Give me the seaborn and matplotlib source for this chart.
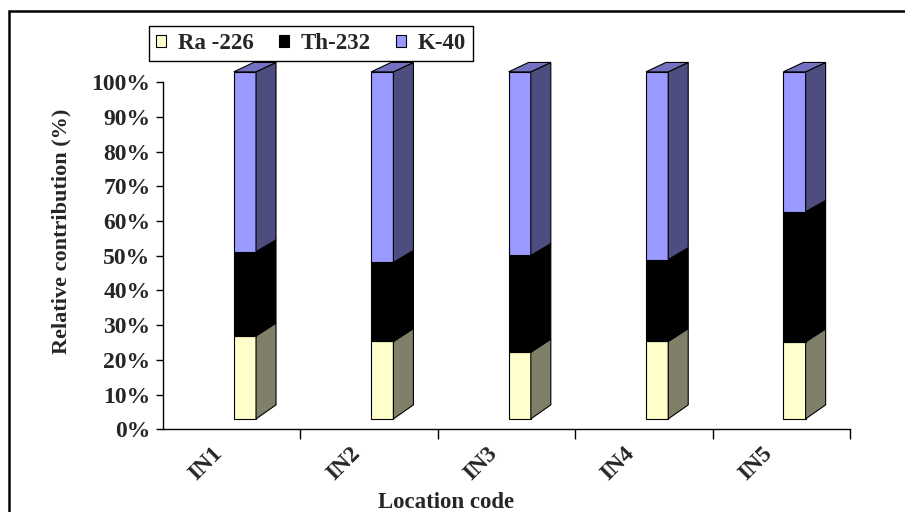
import numpy as np
import pandas as pd
import matplotlib
matplotlib.use("Agg")
import matplotlib.pyplot as plt
import matplotlib.transforms as mtransforms
import seaborn as sns
from matplotlib.patches import Polygon, Patch, Rectangle

# ---------------- data ----------------
locations = ["IN1", "IN2", "IN3", "IN4", "IN5"]
ra226 = [23.9, 22.3, 19.2, 22.3, 22.2]
th232 = [24.3, 22.8, 27.9, 23.6, 37.5]
k40 = [51.8, 54.9, 52.9, 54.1, 40.3]
series_names = ["Ra -226", "Th-232", "K-40"]
y_ticks = [0, 10, 20, 30, 40, 50, 60, 70, 80, 90, 100]
y_tick_labels = [f"{v}%" for v in y_ticks]

front_colors = ["#FFFFCC", "#000000", "#9999FF"]
side_colors = ["#80806A", "#000000", "#4D4D80"]
top_color = "#7272C0"

# ---------------- style ----------------
sns.set_theme(style="white")
plt.rcParams["font.family"] = ["Liberation Serif", "DejaVu Serif"]
plt.rcParams["font.weight"] = "bold"

fig = plt.figure(figsize=(9.05, 5.12), dpi=100)
ax = fig.add_axes([163 / 905, (512 - 429.3) / 512, 687 / 905, 369.6 / 512])

series = [ra226, th232, k40]
idx = np.arange(len(locations))
bar_w = 0.162
xpos = idx + 0.015 + bar_w / 2
base = 3.0  # 3-D front face offset
dx = 20 / 137.4


def dy(v):
    return (14 - 4.6 * (v - base) / 100) / 3.47


cum = np.zeros(len(locations))
for name, vals, fc, sc in zip(series_names, series, front_colors, side_colors):
    vals = np.asarray(vals, dtype=float)
    bottoms = base + cum
    df = pd.DataFrame({"x": xpos, "y": vals})
    sns.barplot(data=df, x="x", y="y", bottom=bottoms, native_scale=True,
                width=bar_w, color=fc, saturation=1, edgecolor="black",
                linewidth=0.8, errorbar=None, ax=ax, zorder=3)
    for xc, b, v in zip(xpos, bottoms, vals):
        t = b + v
        xr = xc + bar_w / 2
        pts = [(xr, b), (xr + dx, b + dy(b)), (xr + dx, t + dy(t)), (xr, t)]
        ax.add_patch(Polygon(pts, closed=True, facecolor=sc, edgecolor="black",
                             linewidth=0.8, zorder=3))
    cum += vals

for xc, c in zip(xpos, cum):
    top = base + c
    xl, xr = xc - bar_w / 2, xc + bar_w / 2
    d = dy(top)
    pts = [(xl, top), (xl + dx, top + d), (xr + dx, top + d), (xr, top)]
    ax.add_patch(Polygon(pts, closed=True, facecolor=top_color, edgecolor="black",
                         linewidth=0.8, zorder=3))

# ---------------- axes ----------------
ax.set_xlim(-0.5, 4.5)
ax.set_ylim(0, 106.5)
ax.set_facecolor("white")
for s in ["top", "right"]:
    ax.spines[s].set_visible(False)
for s in ["left", "bottom"]:
    ax.spines[s].set_color("black")
    ax.spines[s].set_linewidth(1.0)
ax.spines["left"].set_bounds(0, 100)

ax.set_yticks(y_ticks, y_tick_labels)
ax.tick_params(axis="y", direction="out", length=5, width=1, color="black",
               labelsize=17, pad=4, left=True)
ax.set_xticks(idx, locations)
ax.set_xticks(np.arange(0.5, 5.0, 1.0), minor=True)
ax.tick_params(axis="x", which="major", length=0, pad=10, labelsize=17)
ax.tick_params(axis="x", which="minor", direction="out", length=7, width=1,
               color="black", bottom=True)
shift = mtransforms.ScaledTranslation(-5 / 100, 0, fig.dpi_scale_trans)
for lab in ax.get_xticklabels():
    lab.set_rotation(45)
    lab.set_ha("right")
    lab.set_va("top")
    lab.set_fontweight("bold")
    lab.set_transform(lab.get_transform() + shift)
for lab in ax.get_yticklabels():
    lab.set_fontweight("bold")

ax.set_xlabel("")
ax.set_ylabel("")
fig.text(61 / 905, 1 - 231 / 512, "Relative contribution (%)", rotation=90,
         ha="center", va="center", fontsize=16, fontweight="bold")
fig.text(446 / 905, 1 - 502 / 512, "Location code", ha="center", va="center",
         fontsize=16.5, fontweight="bold")

# ---------------- legend ----------------
handles = [Patch(facecolor=c, edgecolor="black", linewidth=0.8) for c in front_colors]
leg = fig.legend(handles, series_names, loc="upper left",
                 bbox_to_anchor=(149 / 905, 1 - 26 / 512), ncol=3, frameon=True,
                 fancybox=False, edgecolor="black", framealpha=1,
                 handlelength=0.45, handleheight=0.45, handletextpad=0.5,
                 columnspacing=1.1, borderpad=0.3, borderaxespad=0,
                 prop=dict(weight="bold", size=16.5))
leg.get_frame().set_linewidth(1.0)

# outer chart frame
fig.add_artist(Rectangle((9 / 905, -0.2), 1.2, 1.2 - 11 / 512, transform=fig.transFigure,
                         fill=False, edgecolor="black", linewidth=1.8))

fig.savefig("out.png", dpi=100, facecolor="white")
